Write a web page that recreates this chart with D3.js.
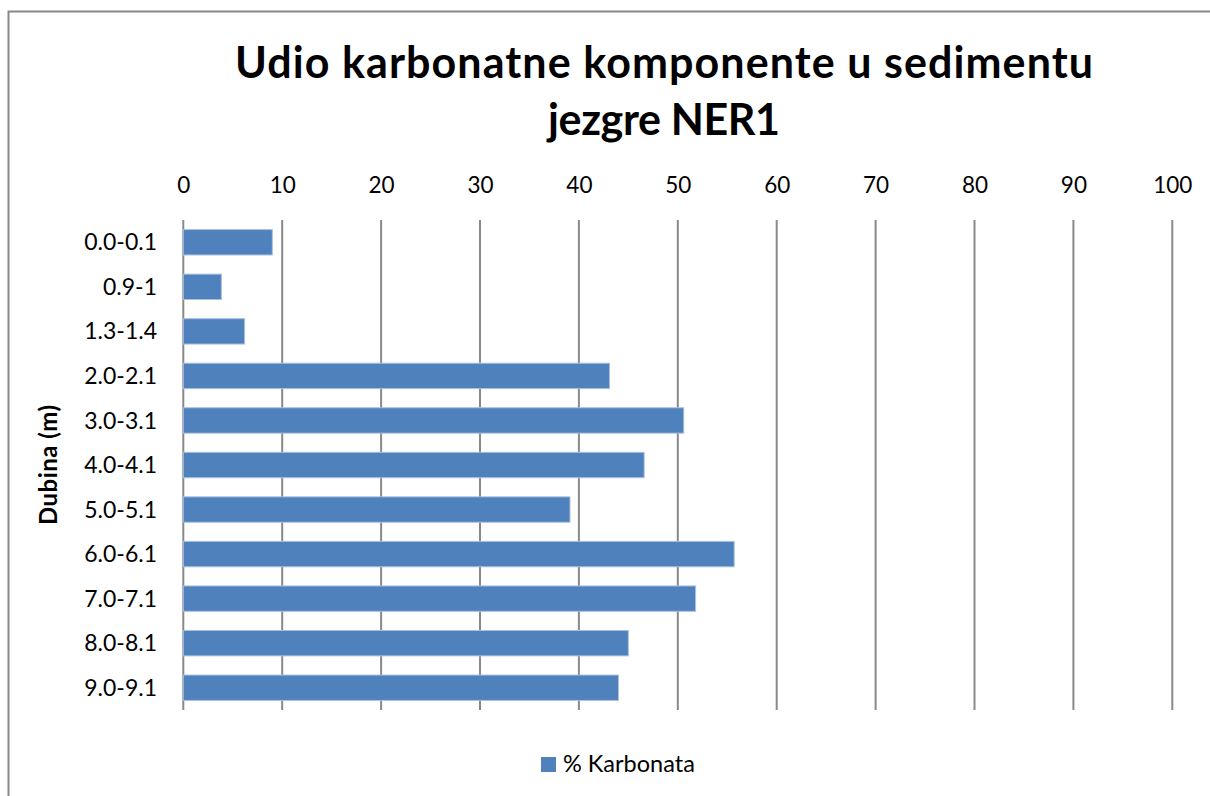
<!DOCTYPE html>
<html>
<head>
<meta charset="utf-8">
<script src="https://cdn.jsdelivr.net/npm/d3@7"></script>
<style>
  html, body { margin: 0; padding: 0; background: #fff; }
  svg { display: block; font-family: Lato, "Open Sans", sans-serif; }
</style>
</head>
<body>
<svg id="chart" width="1210" height="796"></svg>
<script>
const categories = ["0.0-0.1","0.9-1","1.3-1.4","2.0-2.1","3.0-3.1","4.0-4.1","5.0-5.1","6.0-6.1","7.0-7.1","8.0-8.1","9.0-9.1"];
const values = [9.0, 3.85, 6.2, 43.1, 50.6, 46.6, 39.1, 55.7, 51.8, 45.0, 44.0];
const xTicks = [0,10,20,30,40,50,60,70,80,90,100];
const titleLines = ["Udio karbonatne komponente u sedimentu", "jezgre NER1"];
const yTitle = "Dubina (m)";
const seriesName = "% Karbonata";

const svg = d3.select("#chart");
const W = 1210, H = 796;
const plot = {left: 183.3, right: 1172.3, top: 220, bottom: 710};

// outer chart border
svg.append("rect").attr("x", 8.5).attr("y", 11.5).attr("width", W + 20).attr("height", H + 20)
  .attr("fill", "#fff").attr("stroke", "#878787").attr("stroke-width", 2);

const x = d3.scaleLinear().domain([0, 100]).range([plot.left, plot.right]);
const y = d3.scaleBand().domain(categories).range([plot.top, plot.bottom]).paddingInner(0.43).paddingOuter(0.215);

// gridlines
svg.append("g").selectAll("line").data(xTicks).join("line")
  .attr("x1", d => x(d)).attr("x2", d => x(d))
  .attr("y1", plot.top).attr("y2", plot.bottom)
  .attr("stroke", "#898989").attr("stroke-width", 2);

// top axis labels
const xAxis = d3.axisTop(x).tickValues(xTicks).tickSize(0).tickPadding(0).tickFormat(d3.format("d"));
const gx = svg.append("g").attr("transform", `translate(0,193)`).call(xAxis);
gx.select(".domain").remove();
gx.selectAll("text").attr("font-size", 22.5).attr("fill", "#000").attr("font-family", "Lato, sans-serif").attr("dy", 0);

// y axis labels
const yAxis = d3.axisLeft(y).tickSize(0).tickPadding(0);
const gy = svg.append("g").attr("transform", `translate(157,0)`).call(yAxis);
gy.select(".domain").remove();
gy.selectAll("text").attr("font-size", 23).attr("fill", "#000").attr("font-family", "Lato, sans-serif").attr("dy", "0.35em");

// bars
svg.append("g").selectAll("rect").data(values).join("rect")
  .attr("x", x(0))
  .attr("y", (d, i) => y(categories[i]))
  .attr("width", d => x(d) - x(0))
  .attr("height", y.bandwidth())
  .attr("fill", "#4F81BD")
  .attr("stroke", "#A9C1E0").attr("stroke-width", 1);

// title
const titleWidths = [858, 232];
const title = svg.append("text").attr("text-anchor", "middle").attr("font-weight", "bold")
  .attr("font-size", 43).attr("fill", "#000");
title.selectAll("tspan").data(titleLines).join("tspan")
  .attr("x", 664).attr("y", (d, i) => 78 + i * 57)
  .attr("textLength", (d, i) => titleWidths[i]).attr("lengthAdjust", "spacing")
  .text(d => d);

// y-axis title
svg.append("text").attr("transform", "translate(57,465) rotate(-90)")
  .attr("text-anchor", "middle").attr("font-weight", "bold").attr("font-size", 24)
  .attr("textLength", 120).attr("lengthAdjust", "spacing")
  .attr("fill", "#000").text(yTitle);

// legend
const lg = svg.append("g");
lg.append("rect").attr("x", 541).attr("y", 757).attr("width", 15).attr("height", 15).attr("fill", "#4F81BD");
lg.append("text").attr("x", 563).attr("y", 772).attr("font-size", 23.5).attr("fill", "#000").text(seriesName);
</script>
</body>
</html>
